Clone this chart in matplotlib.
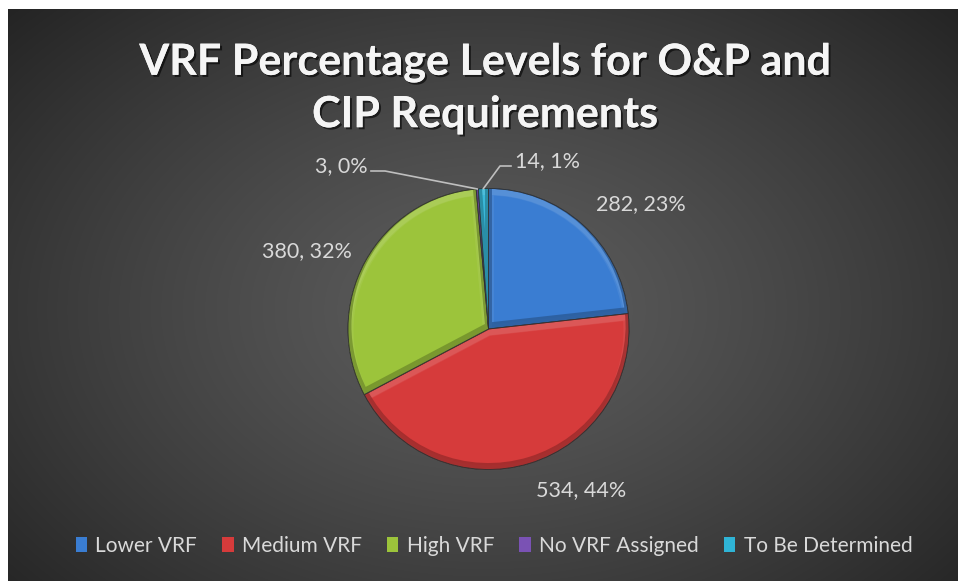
import numpy as np
import matplotlib
matplotlib.use('Agg')
import matplotlib.pyplot as plt
from matplotlib.patches import PathPatch, Patch
from matplotlib.path import Path
from matplotlib.colors import to_rgb
import matplotlib.patheffects as pe

# ---------------- data ----------------
categories = ['Lower VRF', 'Medium VRF', 'High VRF', 'No VRF Assigned', 'To Be Determined']
counts = [282, 534, 380, 3, 14]
percent_labels = ['23%', '44%', '32%', '0%', '1%']
colors = ['#3a7dd2', '#d63b3b', '#9cc43b', '#7a52b4', '#2fb4d6']
title = 'VRF Percentage Levels for O&P and\nCIP Requirements'

# ---------------- layout ----------------
W, H = 958, 581
FONT = 'Lato'
TXT = '#d9d9d9'

fig = plt.figure(figsize=(W / 100, H / 100), dpi=100, facecolor='white')

# background radial gradient (chart area, white margin top/left)
x0, y0 = 8, 9
bg = fig.add_axes([x0 / W, 0, (W - x0) / W, (H - y0) / H])
gx = np.arange(x0, W) + 0.5
gy = np.arange(y0, H) + 0.5
XX, YY = np.meshgrid(gx, gy)
d = np.sqrt(((XX - 485) / 610.0) ** 2 + ((YY - 310) / 420.0) ** 2)
val = (93 - 53 * np.clip(d, 0, 1.1) ** 1.25) / 255.0
img = np.dstack([val, val, val])
bg.imshow(img, aspect='auto', interpolation='bilinear')
bg.axis('off')

ax = fig.add_axes([0, 0, 1, 1])
ax.patch.set_alpha(0)


def Y(y):
    return H - y


cx, cy, R = 488.5, Y(329), 140.5


def shade(c, f):
    r, g, b = to_rgb(c)
    if f >= 0:
        return (r + (1 - r) * f, g + (1 - g) * f, b + (1 - b) * f)
    return (r * (1 + f), g * (1 + f), b * (1 + f))


wedges, _ = ax.pie(counts, colors=colors, startangle=90, counterclock=False,
                   center=(cx, cy), radius=R, frame=True,
                   wedgeprops=dict(edgecolor='#3a3a3a', linewidth=0.6))

# soft bevel: highlight on upper edges, shadow on lower edges
for w, c in zip(wedges, colors):
    p = w.get_path()
    for off, f, lw, a in [(3.0, 0.25, 5, 0.7), (1.5, 0.12, 8, 0.5),
                          (-3.0, -0.28, 5, 0.8)]:
        hp = PathPatch(Path(p.vertices + np.array([0, -off]), p.codes),
                       fill=False, edgecolor=shade(c, f), lw=lw, alpha=a,
                       transform=ax.transData)
        hp.set_clip_path(w)
        ax.add_patch(hp)
    ax.add_patch(PathPatch(p, fill=False, edgecolor='#2e2e2e', lw=0.6,
                           transform=ax.transData))

ax.set_xlim(0, W)
ax.set_ylim(0, H)
ax.axis('off')

# data labels
label_pos = [(641, 204, 'center'), (581, 490, 'center'), (307, 251, 'center'),
             (368, 166, 'right'), (515, 161, 'left')]
for cnt, pct, (lx, ly, ha) in zip(counts, percent_labels, label_pos):
    ax.text(lx, Y(ly), f'{cnt}, {pct}', color=TXT, fontsize=15.5, family=FONT,
            ha=ha, va='center')

# leader lines for the two small slices
def rim_point(w):
    th = np.deg2rad((w.theta1 + w.theta2) / 2)
    return cx + R * np.cos(th), cy + R * np.sin(th)

px, py = rim_point(wedges[3])
ax.plot([px, 385, 371], [py, Y(171), Y(171)], color='#bfbfbf', lw=1.2)
px, py = rim_point(wedges[4])
ax.plot([px, 500, 511], [py, Y(166), Y(166)], color='#bfbfbf', lw=1.2)

# title
ax.text(485, Y(88), title, ha='center', va='center', color='#f5f5f5',
        fontsize=31, family=FONT, fontweight='bold', linespacing=1.36,
        path_effects=[pe.withSimplePatchShadow(offset=(1.5, -1.5), alpha=0.6,
                                               shadow_rgbFace='black'),
                      pe.Normal()])

# legend
handles = [Patch(facecolor=c, edgecolor='none') for c in colors]
leg = fig.legend(handles, categories, loc='center', ncol=5,
                 bbox_to_anchor=(494 / W, 1 - 546 / H), frameon=False,
                 prop={'family': FONT, 'size': 15}, labelcolor=TXT,
                 handlelength=0.55, handleheight=0.7, handletextpad=0.4,
                 columnspacing=1.2, borderpad=0)

fig.savefig('out.png', dpi=100, facecolor='white')
